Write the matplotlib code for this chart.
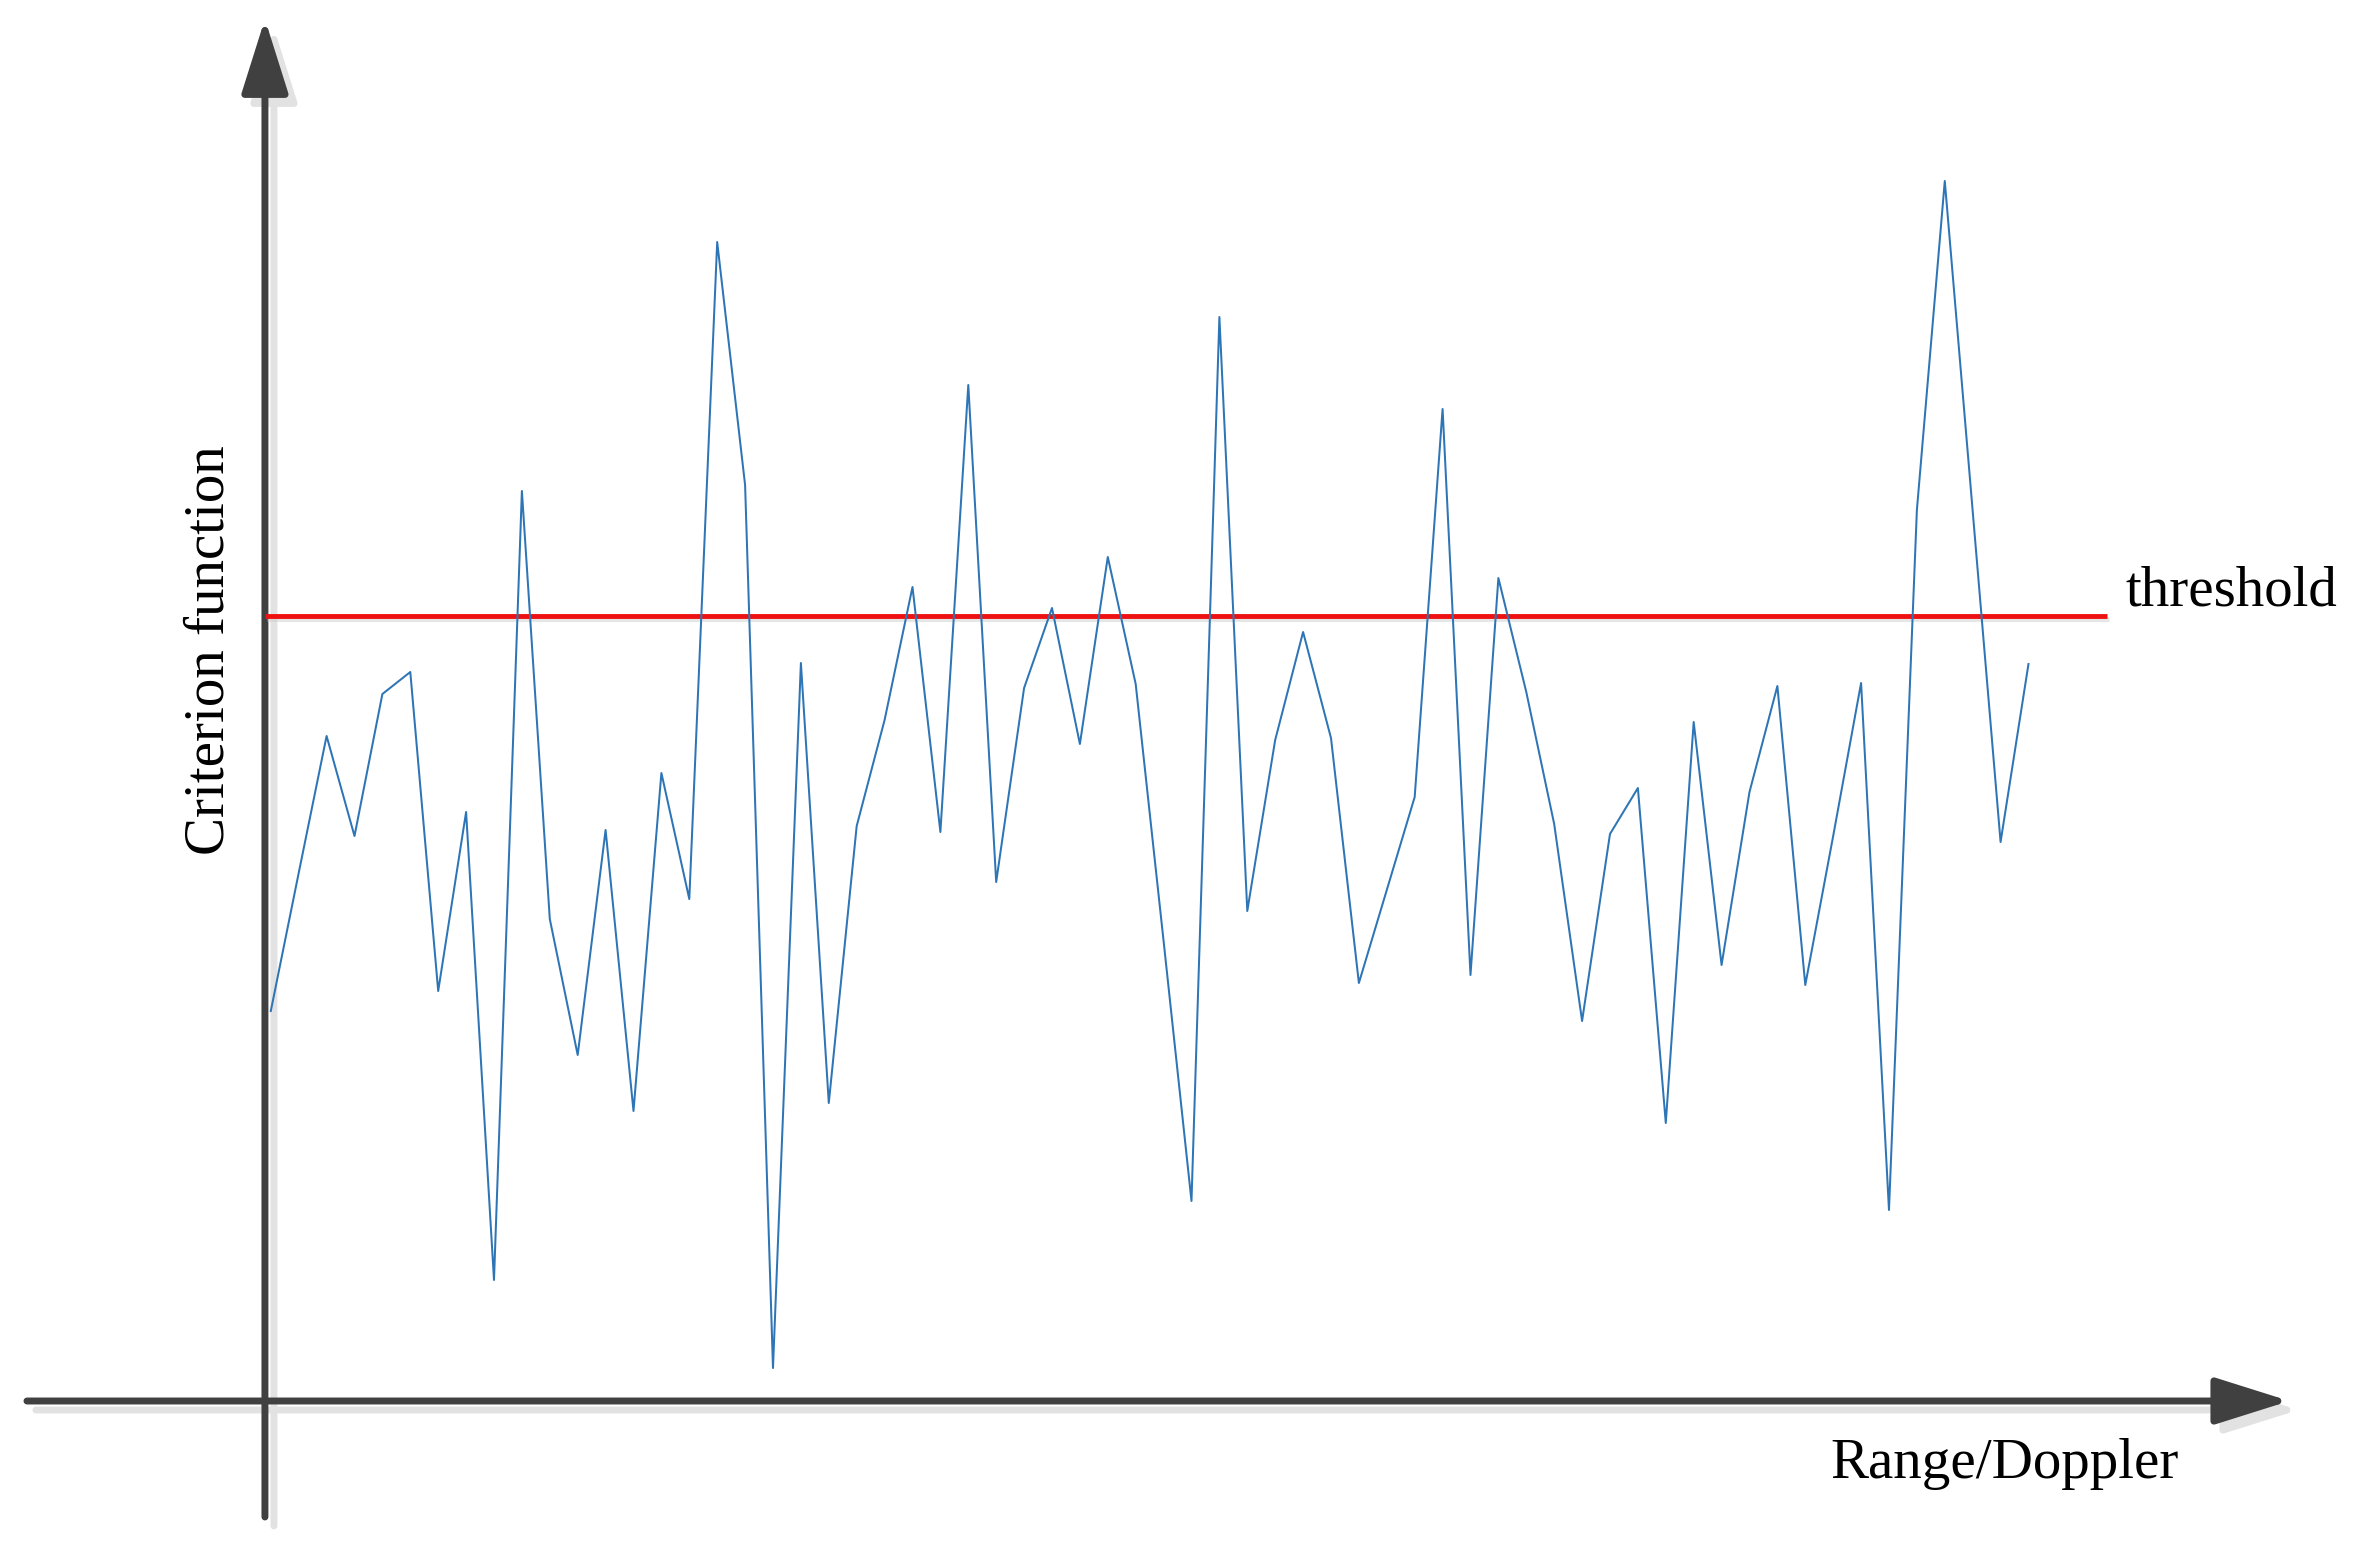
import matplotlib
matplotlib.use("Agg")
import matplotlib.pyplot as plt
import matplotlib.patheffects as pe
import matplotlib.transforms as mtransforms

# ---- data ----
criterion = [3.90, 5.28, 6.65, 5.65, 7.07, 7.29, 4.10, 5.89, 1.21, 9.10,
             4.82, 3.46, 5.71, 2.90, 6.28, 5.02, 11.59, 9.16, 0.33, 7.38,
             2.98, 5.75, 6.81, 8.14, 5.69, 10.16, 5.19, 7.13, 7.93, 6.57,
             8.44, 7.17, 4.60, 2.00, 10.84, 4.90, 6.61, 7.69, 6.63, 4.18,
             5.11, 6.04, 9.92, 4.26, 8.23, 7.09, 5.77, 3.80, 5.67, 6.13,
             2.78, 6.79, 4.36, 6.09, 7.15, 4.16, 5.65, 7.18, 1.91, 8.91,
             12.20, 8.90, 5.59, 7.37]
samples = list(range(len(criterion)))
threshold = 7.85

xlabel = "Range/Doppler"
ylabel = "Criterion function"
threshold_label = "threshold"

# ---- figure ----
W, H, DPI = 2363, 1553, 100
fig = plt.figure(figsize=(W / DPI, H / DPI), dpi=DPI)
ax = fig.add_axes([0, 0, 1, 1])
ax.set_xlim(-9.706, 74.99)
ax.set_ylim(-1.52, 14.01)
ax.axis("off")

font = dict(family=["Liberation Serif", "DejaVu Serif"], size=41, color="black")

axis_color = "#404040"
shadow_color = "#e2e2e2"
shadow_tr = mtransforms.offset_copy(ax.transData, fig=fig, x=9, y=-9, units="dots")

y_axis_x = -0.21
x_axis_y = 0.0


def axis_arrow(start, end):
    for tr, col, z in ((shadow_tr, shadow_color, 1), (ax.transData, axis_color, 3)):
        ax.annotate("", xy=end, xytext=start, xycoords=tr, textcoords=tr,
                    arrowprops=dict(arrowstyle="-|>,head_length=4.6,head_width=1.45",
                                    mutation_scale=10, lw=5, color=col,
                                    shrinkA=0, shrinkB=0),
                    zorder=z)


axis_arrow((y_axis_x, -1.16), (y_axis_x, 13.82))
axis_arrow((-8.74, x_axis_y), (72.35, x_axis_y))

# threshold line
ax.plot([y_axis_x, 65.81], [threshold, threshold], color="#ee1111", lw=3.5,
        solid_capstyle="butt", zorder=4,
        path_effects=[pe.SimpleLineShadow(offset=(1.5, -2.5), shadow_color="0.80", alpha=0.5),
                      pe.Normal()])

# criterion curve
ax.plot(samples, criterion, color="#2e75b6", lw=1.45, zorder=5)

# labels
ax.text(62.16, -0.77, xlabel, ha="center", va="baseline", **font)
ax.text(66.46, 7.95, threshold_label, ha="left", va="baseline", **font)
ax.text(-2.21, 7.51, ylabel, ha="center", va="center", rotation=90, **font)

fig.savefig("out.png", dpi=DPI)
